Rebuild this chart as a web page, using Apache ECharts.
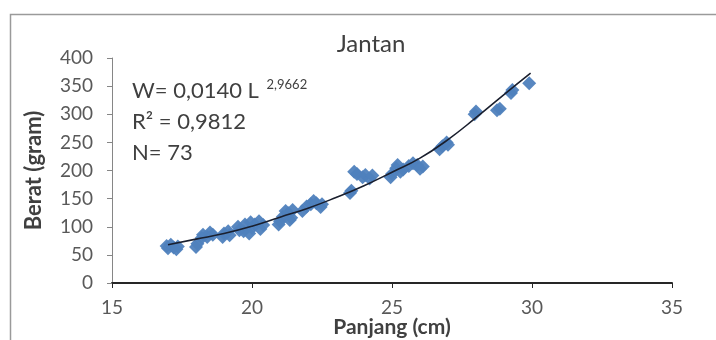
<!DOCTYPE html>
<html>
<head>
<meta charset="utf-8">
<script src="https://cdn.jsdelivr.net/npm/echarts@6/dist/echarts.min.js"></script>
<style>
  html, body { margin: 0; padding: 0; background: #fff; }
  #chart { width: 716px; height: 340px; }
</style>
</head>
<body>
<div id="chart"></div>
<script>
// panjang (cm) / berat (gram)
var panjang = [
  16.95, 17.0, 17.1, 17.2, 17.3, 17.35, 18.0, 18.05, 18.2, 18.25,
  18.4, 18.5, 18.6, 18.95, 19.0, 19.15, 19.2, 19.5, 19.55, 19.7,
  19.75, 19.9, 19.95, 20.0, 20.1, 20.25, 20.3, 20.4, 20.95, 21.0,
  21.1, 21.2, 21.3, 21.35, 21.4, 21.45, 21.8, 21.95, 22.1, 22.2,
  22.3, 22.45, 22.5, 23.5, 23.55, 23.65, 23.75, 23.95, 24.05, 24.2,
  24.3, 24.95, 25.0, 25.15, 25.2, 25.3, 25.4, 25.6, 25.75, 25.9,
  26.0, 26.1, 26.7, 26.8, 26.95, 27.0, 27.95, 28.0, 28.75, 28.85,
  29.25, 29.3, 29.9
];
var berat = [
  66, 62, 68, 63, 60, 65, 64, 70, 80, 86,
  82, 90, 86, 82, 88, 92, 85, 100, 94, 92,
  104, 88, 108, 98, 104, 110, 96, 103, 104, 110,
  118, 128, 124, 112, 116, 130, 128, 136, 140, 146,
  142, 135, 140, 160, 164, 198, 194, 188, 192, 186,
  191, 188, 194, 204, 210, 198, 202, 208, 213, 210,
  203, 207, 238, 243, 250, 246, 300, 305, 307, 310,
  338, 343, 355
];
// trendline as drawn
var trendX = [17, 18, 19, 20, 21, 22, 23, 24, 25, 26, 27, 28, 29, 29.95];
var trendY = [68, 78, 88, 101, 117, 133, 152, 173, 197, 222, 255, 294, 335, 373];
var xTicks = [15, 20, 25, 30, 35];
var yTicks = [0, 50, 100, 150, 200, 250, 300, 350, 400];

var font = 'Lato, "Open Sans", sans-serif';

var points = panjang.map(function (x, i) { return [x, berat[i]]; });
var trend = trendX.map(function (x, i) { return [x, trendY[i]]; });

var chart = echarts.init(document.getElementById('chart'), null, { renderer: 'canvas' });
chart.setOption({
  animation: false,
  backgroundColor: '#fff',
  textStyle: { fontFamily: font },
  title: {
    text: 'Jantan',
    left: 366,
    top: 27,
    textAlign: 'center',
    textStyle: { fontFamily: font, fontSize: 24, fontWeight: 'normal', color: '#404040' }
  },
  grid: { left: 112, right: 44, top: 58, bottom: 57, containLabel: false, outerBoundsMode: 'none' },
  xAxis: {
    type: 'value',
    min: xTicks[0],
    max: xTicks[xTicks.length - 1],
    interval: 5,
    name: 'Panjang (cm)',
    nameLocation: 'middle',
    nameGap: 34,
    nameMoveOverlap: false,
    nameTextStyle: { fontFamily: font, fontSize: 21, fontWeight: 'bold', color: '#404040' },
    axisLine: { onZero: false, lineStyle: { color: '#262626', width: 2 } },
    axisTick: { show: true, length: 5, lineStyle: { color: '#262626' } },
    axisLabel: { margin: 15, fontSize: 19, color: '#595959', fontFamily: font },
    splitLine: { show: false }
  },
  yAxis: {
    type: 'value',
    min: yTicks[0],
    max: yTicks[yTicks.length - 1],
    interval: 50,
    name: 'Berat (gram)',
    nameLocation: 'middle',
    nameGap: 67,
    nameMoveOverlap: false,
    nameTextStyle: { fontFamily: font, fontSize: 22, fontWeight: 'bold', color: '#404040' },
    axisLine: { show: true, lineStyle: { color: '#868686', width: 1 } },
    axisTick: { show: true, length: 5, lineStyle: { color: '#868686' } },
    axisLabel: { margin: 19, fontSize: 19, color: '#595959', fontFamily: font },
    splitLine: { show: false }
  },
  graphic: [
    {
      type: 'rect',
      shape: { x: 10.5, y: 14.5, width: 760, height: 400 },
      style: { fill: 'none', stroke: '#9a9a9a', lineWidth: 1.5 },
      silent: true
    },
    {
      type: 'text',
      left: 132,
      top: 78,
      style: {
        text: '{m|W= 0,0140 L }{s|2,9662}',
        fontFamily: font,
        rich: {
          m: { fontSize: 22, fill: '#404040', fontFamily: font },
          s: { fontSize: 13, fill: '#404040', fontFamily: font, verticalAlign: 'top', padding: [0, 0, 12, 2] }
        }
      }
    },
    {
      type: 'text',
      left: 132,
      top: 111,
      style: { text: 'R\u00b2 = 0,9812', fontSize: 22, fill: '#404040', fontFamily: font }
    },
    {
      type: 'text',
      left: 132,
      top: 142,
      style: { text: 'N= 73', fontSize: 22, fill: '#404040', fontFamily: font }
    }
  ],
  series: [
    {
      name: 'data',
      type: 'scatter',
      symbol: 'diamond',
      symbolSize: 14,
      itemStyle: { color: '#4f81bd', opacity: 0.95 },
      data: points,
      z: 2
    },
    {
      name: 'trend',
      type: 'line',
      data: trend,
      smooth: true,
      showSymbol: false,
      lineStyle: { color: '#1a1f2e', width: 1.6 },
      z: 3
    }
  ]
});
</script>
</body>
</html>
